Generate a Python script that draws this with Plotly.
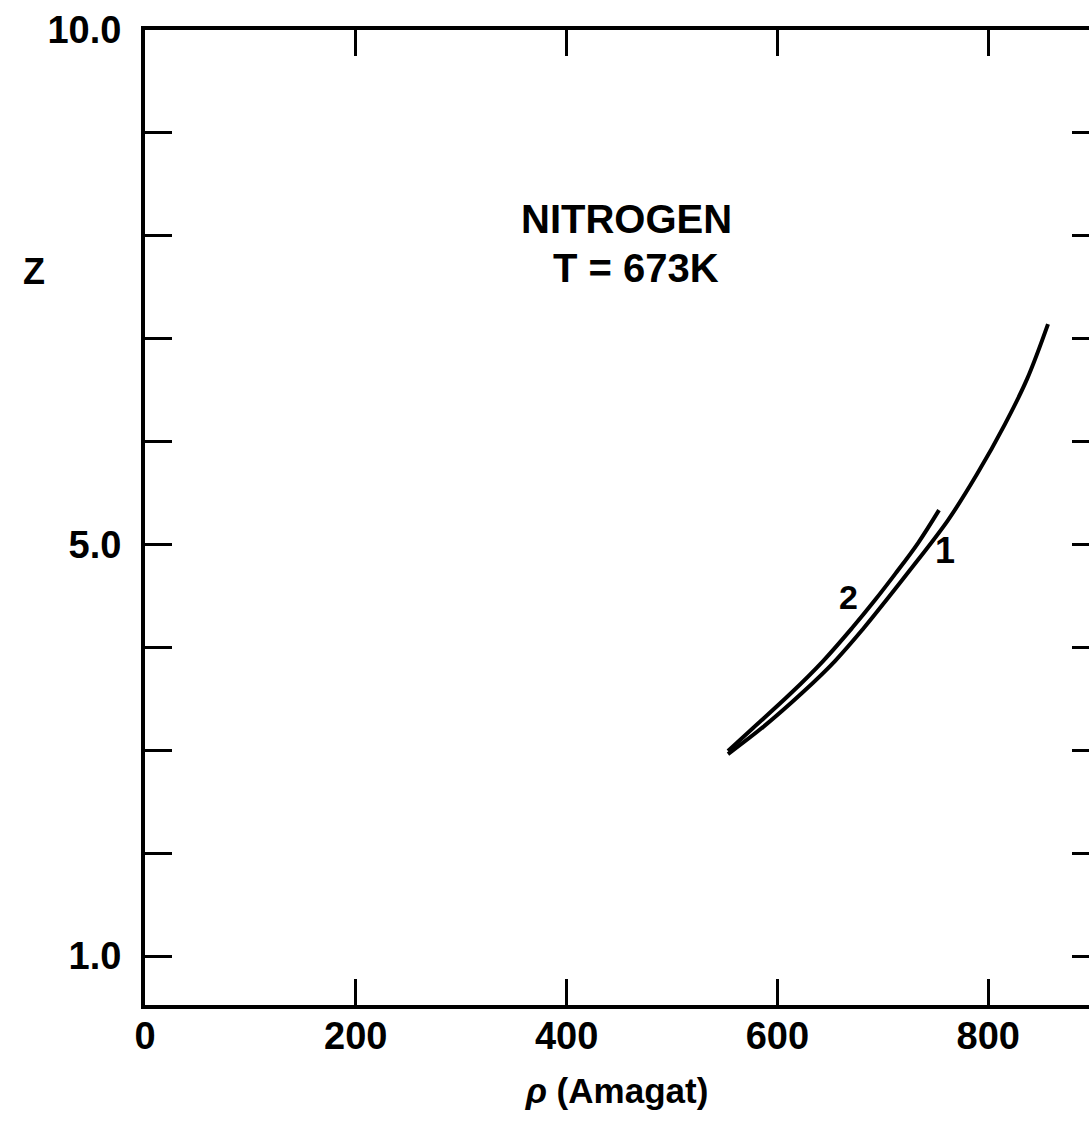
import plotly.graph_objects as go

# Curve 1 (Z vs density)
rho_1 = [553.1, 586.3, 623.3, 654.6, 681.2, 704.9, 725.8, 761.9, 789.4, 815.9, 836.8, 856.7]
z_1 = [2.963, 3.225, 3.556, 3.867, 4.178, 4.479, 4.751, 5.237, 5.684, 6.170, 6.607, 7.142]

# Curve 2
rho_2 = [553.1, 576.9, 612.0, 643.3, 670.8, 692.6, 711.6, 733.4, 753.3]
z_2 = [2.992, 3.216, 3.546, 3.867, 4.188, 4.460, 4.712, 5.014, 5.334]

x_ticks = [0, 200, 400, 600, 800]
y_ticks = [1, 2, 3, 4, 5, 6, 7, 8, 9, 10]
y_ticktext = ["1.0", "", "", "", "5.0", "", "", "", "", "10.0"]

FONT = "Liberation Sans"
BLACK = "#000000"

fig = go.Figure()
line_style = dict(color=BLACK, width=4, shape="spline", smoothing=1.0)
fig.add_trace(go.Scatter(x=rho_1, y=z_1, mode="lines", line=line_style, showlegend=False, hoverinfo="skip"))
fig.add_trace(go.Scatter(x=rho_2, y=z_2, mode="lines", line=line_style, showlegend=False, hoverinfo="skip"))
# invisible trace for right axis
fig.add_trace(go.Scatter(x=[0], y=[1], yaxis="y2", mode="markers", marker=dict(opacity=0), showlegend=False, hoverinfo="skip"))

tickfont = dict(family=FONT, size=38, color=BLACK, weight="bold")

fig.update_layout(
    width=1089, height=1124,
    margin=dict(l=145, r=0, t=30, b=119),
    paper_bgcolor="white", plot_bgcolor="white",
    xaxis=dict(
        range=[0, 895.6], tickvals=x_ticks, ticktext=[str(v) for v in x_ticks],
        ticks="inside", ticklen=26, tickwidth=3, tickcolor=BLACK,
        showline=True, linewidth=4, linecolor=BLACK, mirror="ticks",
        showgrid=False, zeroline=False, tickfont=tickfont, ticklabelstandoff=-6,
        title=dict(text="<i>ρ</i> (Amagat)", font=dict(family=FONT, size=35, color=BLACK, weight="bold"), standoff=24),
    ),
    yaxis=dict(
        range=[0.524, 10.0], tickvals=y_ticks, ticktext=y_ticktext,
        ticks="inside", ticklen=27, tickwidth=3, tickcolor=BLACK,
        showline=True, linewidth=4, linecolor=BLACK,
        showgrid=False, zeroline=False, tickfont=tickfont, ticklabelstandoff=12,
    ),
    yaxis2=dict(
        overlaying="y", side="right", matches="y", range=[0.524, 10.0],
        tickvals=y_ticks[:-1], showticklabels=False,
        ticks="inside", ticklen=17, tickwidth=3, tickcolor=BLACK,
        showline=False, showgrid=False, zeroline=False,
    ),
    annotations=[
        dict(text="Z", xref="paper", yref="paper", x=-145/944, y=(1005-271)/975, xanchor="left", yanchor="middle",
             showarrow=False, font=dict(family=FONT, size=36, color=BLACK, weight="bold"), xshift=21),
        dict(text="NITROGEN", x=(626-145)/1.054, y=1+(956-219)/102.9, xref="x", yref="y",
             showarrow=False, font=dict(family=FONT, size=40, color=BLACK, weight="bold")),
        dict(text="T = 673K", x=(636-145)/1.054, y=1+(956-268)/102.9, xref="x", yref="y",
             showarrow=False, font=dict(family=FONT, size=40, color=BLACK, weight="bold")),
        dict(text="2", x=(848-145)/1.054, y=1+(956-597)/102.9, xref="x", yref="y",
             showarrow=False, font=dict(family=FONT, size=34, color=BLACK, weight="bold")),
        dict(text="1", x=(945-145)/1.054, y=1+(956-550)/102.9, xref="x", yref="y",
             showarrow=False, font=dict(family=FONT, size=36, color=BLACK, weight="bold")),
    ],
)

fig.write_html("out.html")
